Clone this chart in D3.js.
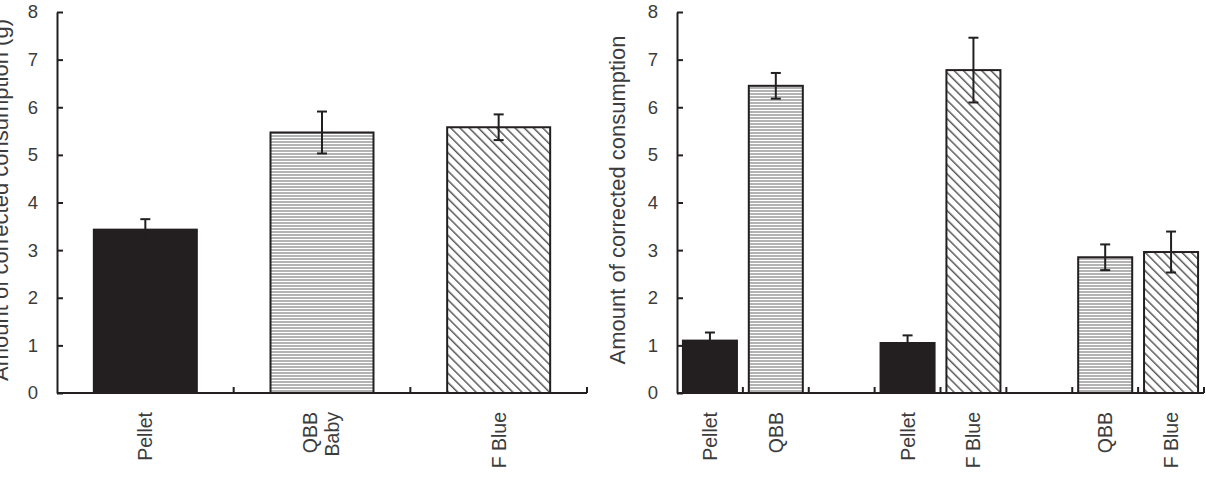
<!DOCTYPE html>
<html>
<head>
<meta charset="utf-8">
<script src="https://cdn.jsdelivr.net/npm/d3@7"></script>
<style>
  body { margin: 0; background: #fff; }
  svg text { font-family: "Liberation Sans", Arial, sans-serif; fill: #3c3c3c; }
</style>
</head>
<body>
<svg id="chart" width="1206" height="477"></svg>
<script>
// left panel
const leftCats = ["Pellet", "QBB Baby", "F Blue"];
const leftMeans = [3.43, 5.47, 5.58];
const leftErr = [0.22, 0.44, 0.27];

// right panel (null = empty slot between groups)
const rightCats = ["Pellet", "QBB", null, "Pellet", "F Blue", null, "QBB", "F Blue"];
const rightMeans = [1.10, 6.45, null, 1.05, 6.78, null, 2.85, 2.96];
const rightErr = [0.17, 0.27, null, 0.16, 0.68, null, 0.27, 0.43];

const yTicks = [0, 1, 2, 3, 4, 5, 6, 7, 8];
const yTitle = "Amount of corrected consumption";

const svg = d3.select("#chart");
const defs = svg.append("defs");

// horizontal line fill (QBB)
const ph = defs.append("pattern").attr("id", "horiz")
    .attr("patternUnits", "userSpaceOnUse").attr("width", 8).attr("height", 3);
ph.append("rect").attr("width", 8).attr("height", 3).attr("fill", "#fff");
ph.append("line").attr("x1", 0).attr("x2", 8).attr("y1", 1).attr("y2", 1)
    .attr("stroke", "#8a8a8a").attr("stroke-width", 1.3);

// diagonal fill (F Blue), lines run top-left to bottom-right
const pd = defs.append("pattern").attr("id", "diag")
    .attr("patternUnits", "userSpaceOnUse").attr("width", 6.5).attr("height", 6.5)
    .attr("patternTransform", "rotate(-45)");
pd.append("rect").attr("width", 6.5).attr("height", 6.5).attr("fill", "#fff");
pd.append("line").attr("x1", 0).attr("x2", 0).attr("y1", 0).attr("y2", 6.5)
    .attr("stroke", "#5a5a5a").attr("stroke-width", 3);

function fillFor(name) {
    if (name.startsWith("Pellet")) return "#231f20";
    if (name.startsWith("QBB")) return "url(#horiz)";
    return "url(#diag)";
}

const ink = "#231f20";

function drawPanel(cats, means, errs, opt) {
    const y = d3.scaleLinear().domain([0, 8]).range([393, 12]);
    const x = d3.scaleBand().domain(d3.range(cats.length))
        .range([opt.left, opt.right])
        .paddingInner(opt.pad).paddingOuter(opt.pad / 2);

    const g = svg.append("g");

    // y axis, ticks pointing inward
    const gy = g.append("g").attr("transform", `translate(${opt.left},0)`)
        .call(d3.axisLeft(y).tickValues(yTicks).tickSizeInner(-6).tickSizeOuter(0).tickPadding(19));
    gy.select(".domain").attr("stroke", ink).attr("stroke-width", 2);
    gy.selectAll(".tick line").attr("stroke", ink).attr("stroke-width", 2);
    gy.selectAll(".tick text").attr("font-size", 18.5).attr("fill", "#3c3c3c");

    // y title
    g.append("text")
        .attr("transform", `translate(${opt.titleX},200) rotate(-90)`)
        .attr("text-anchor", "middle")
        .attr("font-size", 22)
        .text(opt.title);

    // bars
    const data = cats.map((c, i) => ({ c, i, m: means[i], e: errs[i] })).filter(d => d.c !== null);
    g.selectAll("rect.bar").data(data).join("rect")
        .attr("class", "bar")
        .attr("x", d => x(d.i))
        .attr("width", x.bandwidth())
        .attr("y", d => y(d.m))
        .attr("height", d => y(0) - y(d.m))
        .attr("fill", d => fillFor(d.c))
        .attr("stroke", ink).attr("stroke-width", 2);

    // error bars
    const cx = d => x(d.i) + x.bandwidth() / 2;
    const eb = g.selectAll("g.err").data(data).join("g").attr("class", "err")
        .attr("stroke", ink).attr("stroke-width", 2);
    eb.append("line").attr("x1", cx).attr("x2", cx)
        .attr("y1", d => y(d.m + d.e)).attr("y2", d => y(d.m - d.e));
    eb.append("line").attr("x1", d => cx(d) - 5).attr("x2", d => cx(d) + 5)
        .attr("y1", d => y(d.m + d.e)).attr("y2", d => y(d.m + d.e));
    eb.append("line").attr("x1", d => cx(d) - 5).attr("x2", d => cx(d) + 5)
        .attr("y1", d => y(d.m - d.e)).attr("y2", d => y(d.m - d.e));

    // x axis line + upward ticks at band boundaries
    g.append("line").attr("x1", opt.left).attr("x2", opt.right)
        .attr("y1", y(0)).attr("y2", y(0))
        .attr("stroke", ink).attr("stroke-width", 2);
    const bounds = d3.range(cats.length).map(i => x(i) + x.bandwidth() + x.step() * x.paddingInner() / 2);
    g.selectAll("line.xt").data(bounds).join("line").attr("class", "xt")
        .attr("x1", d => d).attr("x2", d => d)
        .attr("y1", y(0)).attr("y2", y(0) - 6)
        .attr("stroke", ink).attr("stroke-width", 2);

    // x labels, rotated
    const lab = g.selectAll("text.xl").data(data).join("text").attr("class", "xl")
        .attr("transform", d => `translate(${cx(d)},412) rotate(-90)`)
        .attr("text-anchor", "end")
        .attr("font-size", 19.5);
    lab.each(function (d) {
        const parts = d.c.split(" ");
        const t = d3.select(this);
        if (d.c === "QBB Baby") {
            t.append("tspan").attr("x", 0).attr("dy", "-0.25em").text(parts[0]);
            t.append("tspan").attr("x", 0).attr("dy", "1.1em").text(parts[1]);
        } else {
            t.append("tspan").attr("x", 0).attr("dy", "0.36em").text(d.c);
        }
    });
}

drawPanel(leftCats, leftMeans, leftErr,
    { left: 57, right: 587, pad: 0.417, titleX: 8, title: yTitle + " (g)" });
drawPanel(rightCats, rightMeans, rightErr,
    { left: 677, right: 1204, pad: 0.18, titleX: 625, title: yTitle });
</script>
</body>
</html>
